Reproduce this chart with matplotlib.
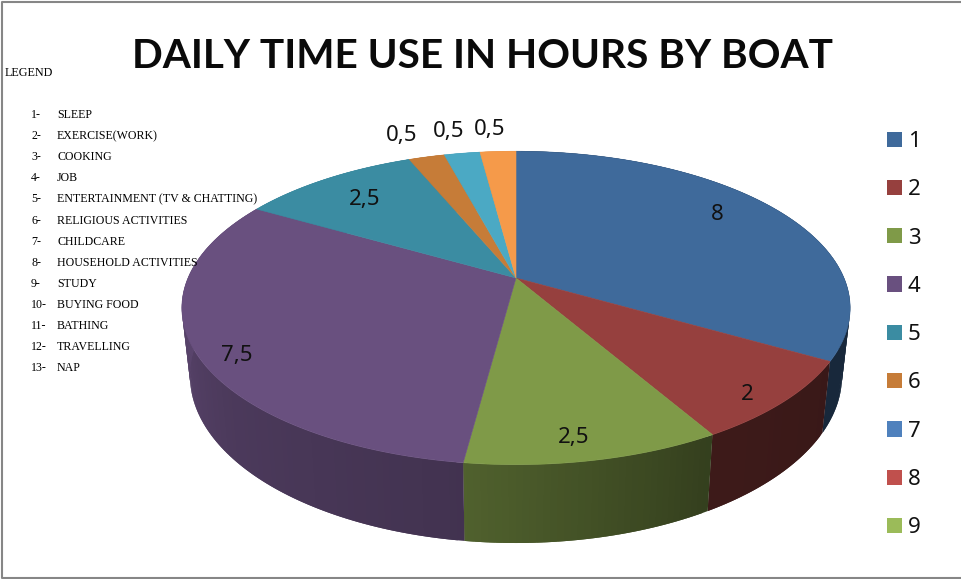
import numpy as np
from matplotlib import pyplot as plt
from matplotlib.colors import to_rgb
from matplotlib.patches import Patch, Polygon

# Chart data
hours = [8, 2, 2.5, 7.5, 2.5, 0.5, 0.5, 0.5]
slice_colours = ['#3f6a9b', '#96403e', '#7f9a48', '#69507f', '#3b8ca2', '#c67c38', '#4ba9c4', '#f59a4a']
legend_names = ['1', '2', '3', '4', '5', '6', '7', '8', '9']
legend_colours = ['#3f6a9b', '#96403e', '#7f9a48', '#69507f', '#3b8ca2', '#c67c38', '#4f81bd', '#c0504d', '#9bbb59']
activities = ['SLEEP', 'EXERCISE(WORK)', 'COOKING', 'JOB', 'ENTERTAINMENT (TV & CHATTING)',
              'RELIGIOUS ACTIVITIES', 'CHILDCARE', 'HOUSEHOLD ACTIVITIES', 'STUDY',
              'BUYING FOOD', 'BATHING', 'TRAVELLING', 'NAP']

# Where each value label sits, in pixels
label_xy = [(717, 215), (747, 394), (574, 438), (237, 355), (365, 199), (402, 136), (449, 132), (490, 130)]


def project(theta, top=True):
    # Perspective view of the pie disc, theta in degrees clockwise from 12 o'clock
    u = np.sin(np.radians(theta))
    v = np.cos(np.radians(theta))
    d = 1 + 0.191 * v
    if top:
        return 516 + 328 * u / d, 278 - 151 * v / d
    return 516 + 320 * u / d, 344 - 161 * v / d


def side_shade(theta):
    # Wall of the pie gets lighter towards the left
    return np.interp(theta, [90, 120, 150, 187.5, 230, 270, 360], [0.38, 0.38, 0.41, 0.63, 0.72, 0.87, 0.87])


def draw_pie(ax):
    edges = np.concatenate([[0], np.cumsum(hours)]) / sum(hours) * 360

    # Walls first, the top face then hides whatever is at the back.
    # Each strip overlaps the next one so no seams show between them.
    for i, colour in enumerate(slice_colours):
        base = np.array(to_rgb(colour))
        starts = np.arange(edges[i], edges[i + 1], 1.0)
        for a in starts:
            arc = np.linspace(a, min(a + 2.0, edges[i + 1]), 5)
            x1, y1 = project(arc)
            x2, y2 = project(arc[::-1], top=False)
            points = np.column_stack([np.concatenate([x1, x2]), np.concatenate([y1, y2])])
            ax.add_patch(Polygon(points, closed=True, facecolor=base * side_shade(a + 0.5),
                                 edgecolor='none', zorder=2))

    for i, colour in enumerate(slice_colours):
        angles = np.linspace(edges[i], edges[i + 1], 100)
        x, y = project(angles)
        points = [(516, 278)] + list(zip(x, y))
        ax.add_patch(Polygon(points, closed=True, facecolor=colour, edgecolor=colour, linewidth=0.4, zorder=3))

    for value, (x, y) in zip(hours, label_xy):
        label = f'{value:g}'.replace('.', ',')
        ax.text(x, y, label, fontsize=16, family='Noto Sans', color='#111111', ha='center', va='center', zorder=4)


def main():
    fig = plt.figure(figsize=(9.61, 5.79), dpi=100)
    ax = fig.add_axes([0, 0, 1, 1])
    ax.set_xlim(0, 961)
    ax.set_ylim(579, 0)
    ax.axis('off')

    # Chart frame, no line on the right side
    ax.plot([961, 2, 2, 961], [2, 2, 578, 578], color='#868686', linewidth=1.5)

    draw_pie(ax)

    ax.text(482.5, 57, 'DAILY TIME USE IN HOURS BY BOAT', fontsize=29.15, family='Lato', fontweight='bold',
            color='#0a0a0a', ha='center', va='center')

    # Typed legend on the left
    ax.text(5, 73, 'LEGEND', fontsize=8.7, family='Liberation Serif', va='center')
    for i, name in enumerate(activities):
        y = 115 + i * 21.1
        ax.text(31, y, f'{i + 1}-', fontsize=8.6, family='Liberation Serif', va='center')
        ax.text(57, y, name, fontsize=8.6, family='Liberation Serif', va='center', zorder=5)

    handles = [Patch(facecolor=c, edgecolor='none', label=n) for c, n in zip(legend_colours, legend_names)]
    ax.legend(handles=handles, loc='upper left', bbox_to_anchor=(887 / 961, 1 - 131 / 579), frameon=False,
              prop={'family': 'Noto Sans', 'size': 16}, handlelength=0.68, handleheight=0.68,
              handletextpad=0.25, labelspacing=1.228, borderpad=0, borderaxespad=0, labelcolor='#111111')

    fig.savefig('out.png', dpi=100)


if __name__ == "__main__":
    main()
